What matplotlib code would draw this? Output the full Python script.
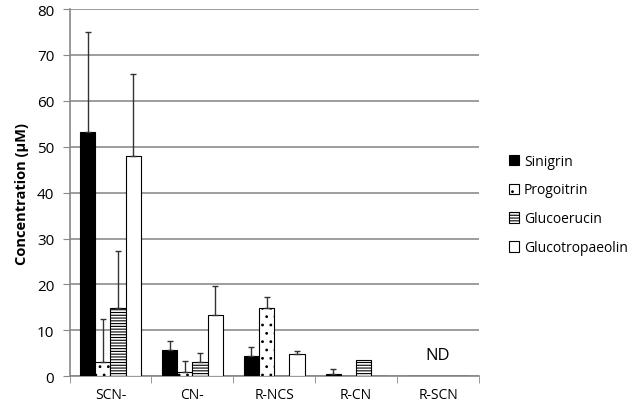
import matplotlib

matplotlib.use("Agg")
import matplotlib.pyplot as plt
import numpy as np

plt.rcParams["font.family"] = ["Open Sans", "DejaVu Sans"]
plt.rcParams["hatch.linewidth"] = 0.8

categories = ["SCN-", "CN-", "R-NCS", "R-CN", "R-SCN"]
series = ["Sinigrin", "Progoitrin", "Glucoerucin", "Glucotropaeolin"]

sinigrin = [53.3, 5.8, 4.5, 0.5, 0.0]
progoitrin = [3.2, 1.0, 14.9, 0.0, 0.0]
glucoerucin = [14.9, 3.2, 0.15, 3.6, 0.0]
glucotropaeolin = [48.0, 13.3, 4.8, 0.0, 0.0]

sinigrin_err = [21.7, 1.9, 1.8, 1.0, 0.0]
progoitrin_err = [9.2, 2.3, 2.3, 0.0, 0.0]
glucoerucin_err = [12.4, 1.8, 0.0, 0.0, 0.0]
glucotropaeolin_err = [17.9, 6.3, 0.7, 0.0, 0.0]

values = [sinigrin, progoitrin, glucoerucin, glucotropaeolin]
errors = [sinigrin_err, progoitrin_err, glucoerucin_err, glucotropaeolin_err]
faces = ["black", "white", "white", "white"]
hatches = [None, "..", "------", None]

fig = plt.figure(figsize=(6.33, 4.14), dpi=100)
ax = fig.add_axes([0.1098, 0.0886, 0.6469, 0.8872])

x = np.arange(len(categories))
width = 0.186
for i, (vals, errs) in enumerate(zip(values, errors)):
    pos = x + (i - 1.5) * width
    ax.bar(pos, vals, width, color=faces[i], edgecolor="black", linewidth=0.8,
           hatch=hatches[i], label=series[i], zorder=3)
    mask = np.array(errs) > 0
    ax.errorbar(pos[mask], np.array(vals)[mask],
                yerr=[np.zeros(mask.sum()), np.array(errs)[mask]],
                fmt="none", ecolor="#333333", elinewidth=1, capsize=2.5,
                capthick=1, zorder=4)

ax.text(4, 3.0, "ND", ha="center", va="bottom", fontsize=12)

ax.set_xlim(-0.5, 4.5)
ax.set_ylim(0, 80)
ax.set_yticks(np.arange(0, 81, 10))
ax.set_xticks(x)
ax.set_xticklabels(categories, fontsize=10)
ax.set_xticks(np.arange(-0.5, 5, 1), minor=True)
ax.tick_params(axis="x", which="major", length=0, pad=8)
ax.tick_params(axis="x", which="minor", length=5, color="#888888", direction="out")
ax.tick_params(axis="y", length=5, color="#888888", labelsize=11, pad=6)
ax.yaxis.grid(True, color="#8c8c8c", linewidth=1.2, zorder=0)
ax.set_axisbelow(True)
for s in ["top", "right"]:
    ax.spines[s].set_visible(False)
for s in ["left", "bottom"]:
    ax.spines[s].set_color("#888888")
    ax.spines[s].set_linewidth(1.2)

ax.set_ylabel("Concentration (\u03bcM)", fontsize=10.5, fontweight="bold", labelpad=6)

fig.legend(loc="upper left", bbox_to_anchor=(0.795, 0.64), frameon=False,
           fontsize=10, handlelength=0.75, handleheight=0.75, handletextpad=0.35,
           labelspacing=1.0, borderaxespad=0)

fig.savefig("out.png", dpi=100)
